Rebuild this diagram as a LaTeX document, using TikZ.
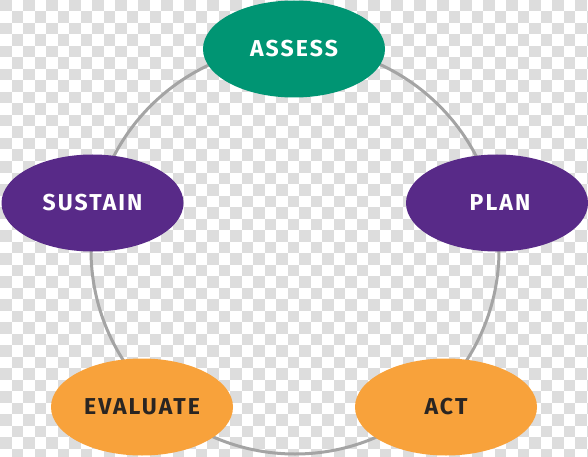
\documentclass[tikz,border=0pt]{standalone}
\usepackage{fontspec}
\setmainfont{Fira Sans}[LetterSpace=9]
\usetikzlibrary{shapes.geometric}
\definecolor{checkgrey}{HTML}{DDDDDD}
\definecolor{ringgrey}{HTML}{A4A4A4}
\definecolor{stagegreen}{HTML}{009573}
\definecolor{stagepurple}{HTML}{582A88}
\definecolor{stageorange}{HTML}{F8A23B}
\definecolor{darktext}{HTML}{2A2522}
\tikzset{
  stage/.style={ellipse, minimum width=182pt, minimum height=97pt, inner sep=0pt,
    font=\fontsize{23}{25}\selectfont\bfseries},
  greenstage/.style={stage, fill=stagegreen, text=white},
  purplestage/.style={stage, fill=stagepurple, text=white},
  orangestage/.style={stage, fill=stageorange, text=darktext},
  ring/.style={draw=ringgrey, line width=3pt}
}
\begin{document}
\begin{tikzpicture}[x=1pt,y=-1pt]
\useasboundingbox (0,0) rectangle (588,457);
\clip (0,0) rectangle (588,457);
\fill[white] (0,0) rectangle (588,457);
\foreach \i in {0,2,...,50}{
  \foreach \j in {0,2,...,38}{
    \fill[checkgrey] (\i*11.5,\j*11.5) rectangle ++(11.5,11.5);
    \fill[checkgrey] (\i*11.5+11.5,\j*11.5+11.5) rectangle ++(11.5,11.5);
  }
}
\coordinate (hub) at (295,250);
\draw[ring] (hub) circle[radius=204];
\node[greenstage] (assess) at (294,49) {ASSESS};
\node[purplestage] (plan) at (497,203) {\hspace{6pt}PLAN};
\node[purplestage] (sustain) at (92.5,203) {SUSTAIN};
\node[orangestage] (evaluate) at (142,407) {EVALUATE};
\node[orangestage] (act) at (446,407) {ACT};
\end{tikzpicture}
\end{document}
